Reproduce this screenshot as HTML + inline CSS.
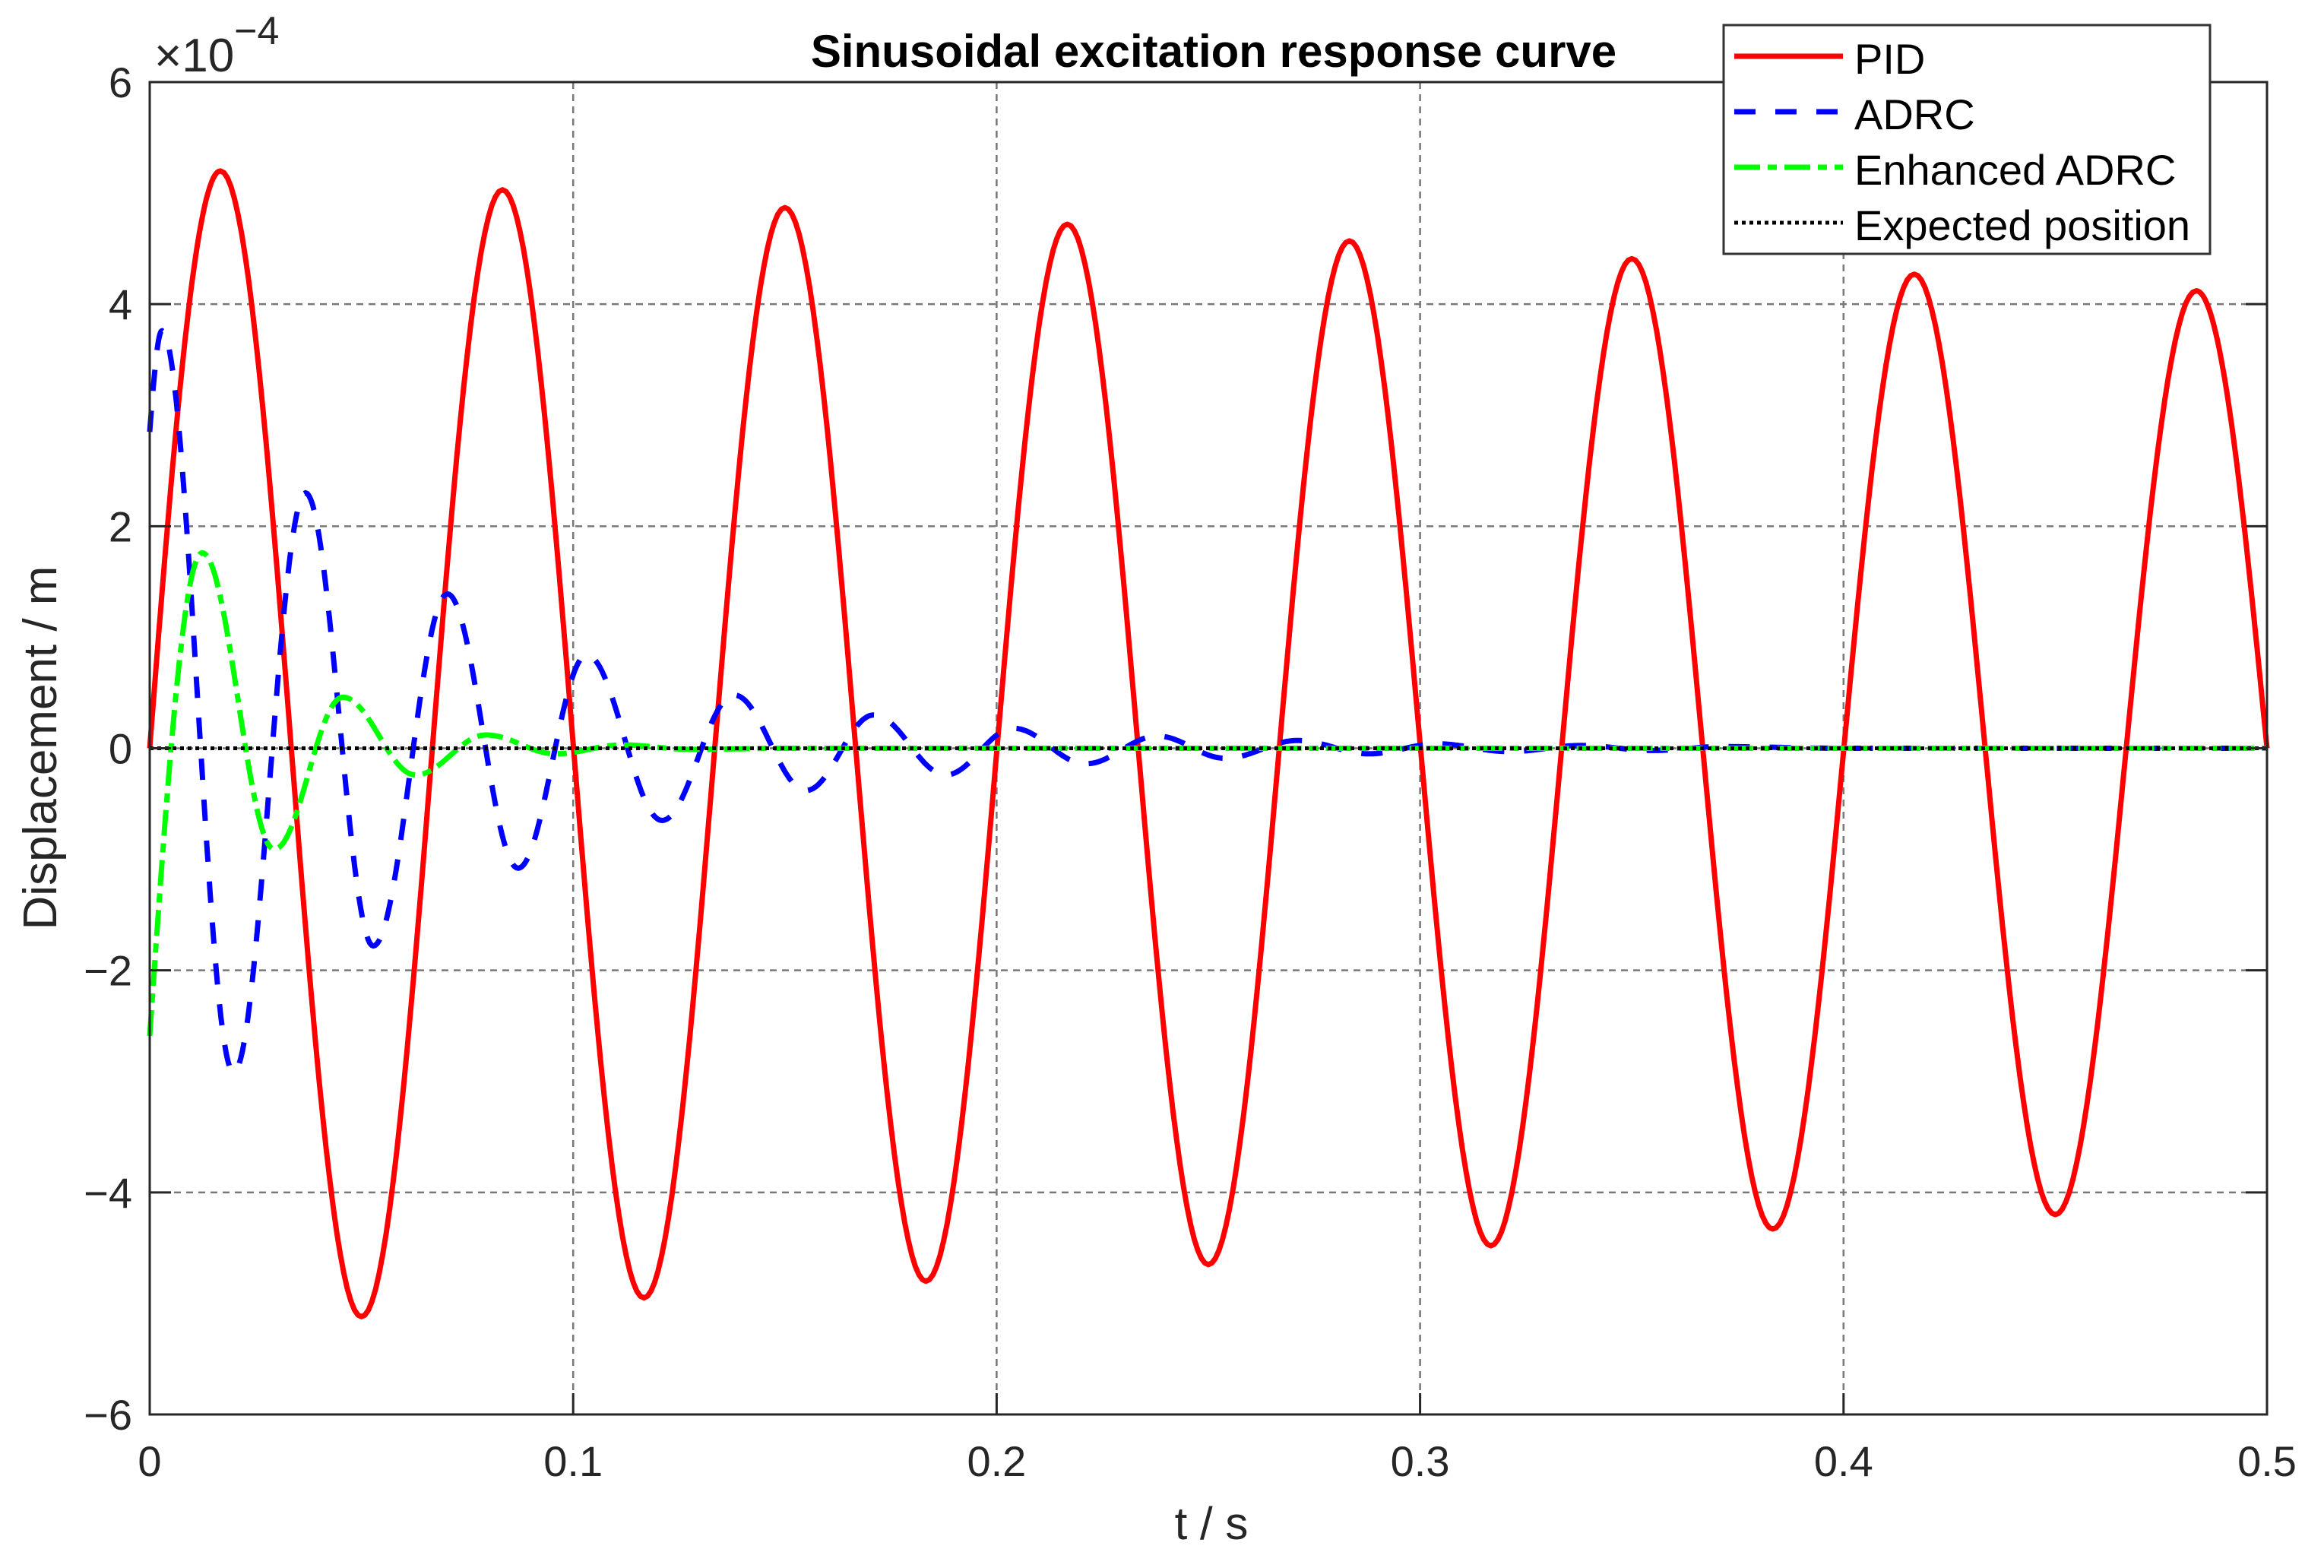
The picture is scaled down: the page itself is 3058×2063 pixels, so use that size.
<!DOCTYPE html>
<html><head><meta charset="utf-8"><style>
html,body{margin:0;padding:0;background:#fff;}
svg text{font-family:"Liberation Sans",Arial,sans-serif;fill:#262626;}
</style></head><body>
<svg id="chart" width="3058" height="2058" viewBox="0 0 3058 2058" xmlns="http://www.w3.org/2000/svg">
<rect width="3058" height="2058" fill="#fff"/>
<g id="grid"></g>
<g id="series"></g>
<g id="axes"></g>
<text x="1597" y="88" text-anchor="middle" font-size="60" font-weight="bold" style="fill:#000">Sinusoidal excitation response curve</text>
<text x="203" y="94" font-size="62">×10<tspan dy="-36" font-size="52">−4</tspan></text>
<text x="1594" y="2025" text-anchor="middle" font-size="60">t / s</text>
<text transform="translate(74,984) rotate(-90)" text-anchor="middle" font-size="62">Displacement / m</text>
<g>
<rect x="2268" y="33" width="640" height="301" fill="#fff" stroke="#333" stroke-width="3"/>
<line x1="2282" y1="74" x2="2425" y2="74" stroke="#ff0000" stroke-width="7"/>
<text x="2440" y="97" font-size="56" style="fill:#000">PID</text>
<line x1="2282" y1="147" x2="2425" y2="147" stroke="#0000ff" stroke-width="7" stroke-dasharray="28,26"/>
<text x="2440" y="170" font-size="56" style="fill:#000">ADRC</text>
<line x1="2282" y1="220" x2="2425" y2="220" stroke="#00ff00" stroke-width="7" stroke-dasharray="34,10,12,10"/>
<text x="2440" y="243" font-size="56" style="fill:#000">Enhanced ADRC</text>
<line x1="2282" y1="293" x2="2425" y2="293" stroke="#000" stroke-width="5" stroke-dasharray="5,5"/>
<text x="2440" y="316" font-size="56" style="fill:#000">Expected position</text>
</g>
</svg>
<script>
const xTicks = [0, 0.1, 0.2, 0.3, 0.4, 0.5];
const xTickLabels = ["0", "0.1", "0.2", "0.3", "0.4", "0.5"];
const yTicks = [-6, -4, -2, 0, 2, 4, 6];
const yTickLabels = ["−6", "−4", "−2", "0", "2", "4", "6"];
// PID extrema (t, value ×1e-4); starts and ends at zero
const pidT = [0, 0.0167, 0.05, 0.0833, 0.1167, 0.15, 0.1833, 0.2167, 0.25, 0.2833, 0.3167, 0.35, 0.3833, 0.4167, 0.45, 0.4833, 0.5];
const pidV = [0, 5.2, -5.12, 5.03, -4.95, 4.87, -4.8, 4.72, -4.65, 4.57, -4.48, 4.41, -4.33, 4.27, -4.2, 4.12, 0];
// ADRC extrema
const adrcT = [0, 0.0029, 0.0198, 0.0368, 0.0528, 0.0703, 0.087, 0.1032, 0.121, 0.138, 0.155, 0.171, 0.188, 0.204, 0.221, 0.238, 0.254, 0.271, 0.288, 0.304, 0.321, 0.338, 0.355, 0.371, 0.40, 0.5];
const adrcV = [2.85, 3.76, -2.92, 2.3, -1.78, 1.39, -1.08, 0.84, -0.65, 0.48, -0.38, 0.3, -0.24, 0.18, -0.14, 0.11, -0.09, 0.07, -0.05, 0.04, -0.03, 0.025, -0.02, 0.015, 0, 0];
// Enhanced ADRC extrema
const enhT = [0, 0.0124, 0.0294, 0.0456, 0.0628, 0.0794, 0.0959, 0.1115, 0.128, 0.15, 0.5];
const enhV = [-2.59, 1.76, -0.91, 0.46, -0.24, 0.12, -0.05, 0.03, -0.01, 0, 0];
// Expected position
const expT = [0, 0.5];
const expV = [0, 0];

const L = 197, R = 2983, T = 108, B = 1861;
const xs = t => L + (t - 0) / 0.5 * (R - L);
const ys = v => B - (v + 6) / 12 * (B - T);
const NS = "http://www.w3.org/2000/svg";
function mk(tag, attrs, parent) {
  const e = document.createElementNS(NS, tag);
  for (const k in attrs) e.setAttribute(k, attrs[k]);
  parent.appendChild(e);
  return e;
}
const grid = document.getElementById('grid');
const axes = document.getElementById('axes');
const series = document.getElementById('series');

xTicks.forEach((t, i) => {
  if (i > 0 && i < xTicks.length - 1) {
    const g = mk('line', {x1: xs(t), x2: xs(t), y1: T, y2: B, stroke: '#777', 'stroke-width': 2.5, 'stroke-dasharray': '9,7'}, grid);
    
    
  }
  const tk = mk('line', {x1: xs(t), x2: xs(t), y1: B, y2: B - 28, stroke: '#262626', 'stroke-width': 3}, axes);
  
  
  const tx = mk('text', {x: xs(t), y: 1942, 'text-anchor': 'middle', 'font-size': 56}, axes);
  tx.textContent = xTickLabels[i];
  
  
});
yTicks.forEach((v, i) => {
  if (i > 0 && i < yTicks.length - 1) {
    const g = mk('line', {x1: L, x2: R, y1: ys(v), y2: ys(v), stroke: '#777', 'stroke-width': 2.5, 'stroke-dasharray': '9,7'}, grid);
    
    
  }
  const tk = mk('line', {x1: L, x2: L + 28, y1: ys(v), y2: ys(v), stroke: '#262626', 'stroke-width': 3}, axes);
  
  
  const tk2 = mk('line', {x1: R, x2: R - 28, y1: ys(v), y2: ys(v), stroke: '#262626', 'stroke-width': 3}, axes);
  
  
  const tx = mk('text', {x: 174, y: ys(v) + 20, 'text-anchor': 'end', 'font-size': 56}, axes);
  tx.textContent = yTickLabels[i];
  
  
});
const frame = mk('rect', {x: L, y: T, width: R - L, height: B - T, fill: 'none', stroke: '#262626', 'stroke-width': 3}, axes);



function buildPath(tArr, vArr) {
  let d = '';
  for (let i = 0; i < tArr.length - 1; i++) {
    const t0 = tArr[i], t1 = tArr[i + 1], a = vArr[i], b = vArr[i + 1];
    const n = 40;
    for (let k = 0; k <= n; k++) {
      if (i > 0 && k === 0) continue;
      const s = k / n;
      let f;
      if (i === 0 || a === 0) f = Math.sin(Math.PI / 2 * s);
      else if (b === 0 && i === tArr.length - 2) f = 1 - Math.cos(Math.PI / 2 * s);
      else f = (1 - Math.cos(Math.PI * s)) / 2;
      const t = t0 + (t1 - t0) * s, v = a + (b - a) * f;
      d += (d ? 'L' : 'M') + xs(t).toFixed(1) + ',' + ys(v).toFixed(1);
    }
  }
  return d;
}
const pid = mk('path', {d: buildPath(pidT, pidV), fill: 'none', stroke: '#ff0000', 'stroke-width': 7, 'stroke-linejoin': 'round'}, series);


const adrc = mk('path', {d: buildPath(adrcT, adrcV), fill: 'none', stroke: '#0000ff', 'stroke-width': 7, 'stroke-dasharray': '28,26'}, series);


const enh = mk('path', {d: buildPath(enhT, enhV), fill: 'none', stroke: '#00ff00', 'stroke-width': 7, 'stroke-dasharray': '34,10,12,10'}, series);


const ex = mk('line', {x1: xs(expT[0]), y1: ys(expV[0]), x2: xs(expT[1]), y2: ys(expV[1]), stroke: '#000', 'stroke-width': 5, 'stroke-dasharray': '5,5'}, series);


</script>
</body></html>
